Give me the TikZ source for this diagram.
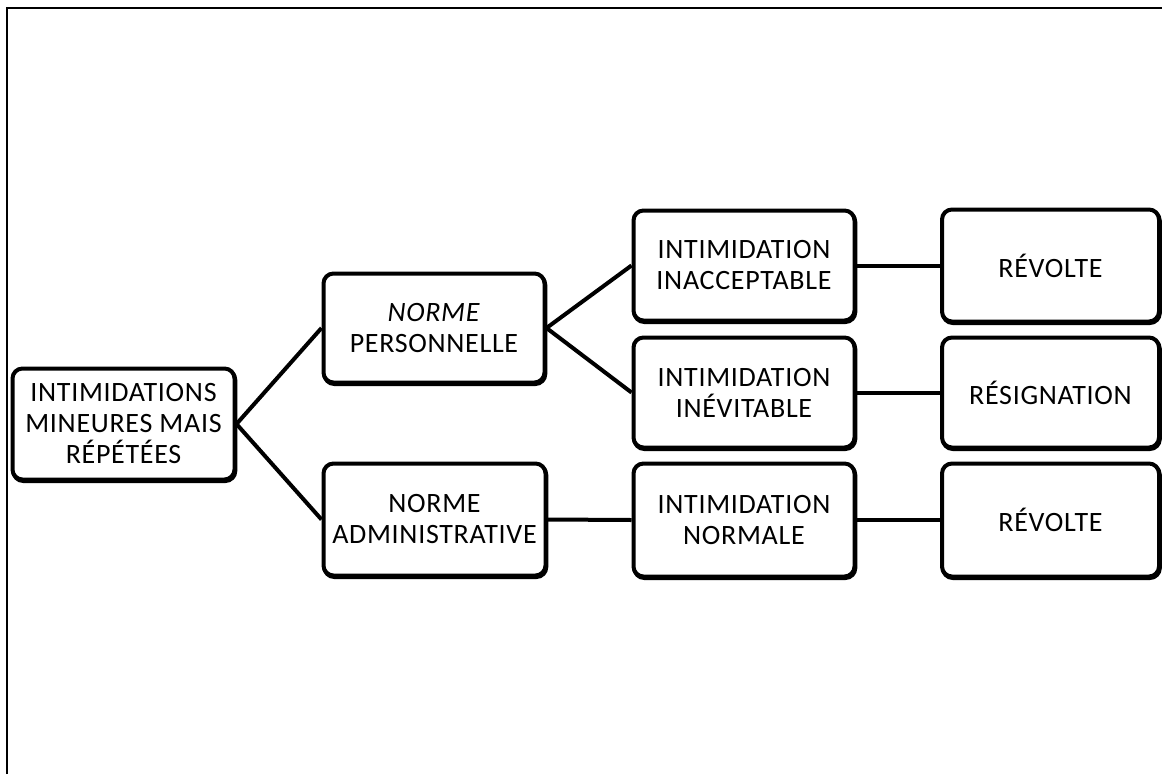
\documentclass[tikz,border=0pt]{standalone}
\usepackage{fontspec}
\setmainfont{Carlito}[LetterSpace=2.5]
\begin{document}
\begin{tikzpicture}[x=1pt,y=-1pt,
  box/.style={draw=black, line width=4pt, rounded corners=10pt, fill=white,
    align=center, inner sep=0pt, font=\fontsize{28}{31}\selectfont,
    preaction={draw=black, line width=4pt, transform canvas={shift={(0.8pt,-1.5pt)}}}},
  link/.style={draw=black, line width=4pt}]
\useasboundingbox (0,0) rectangle (1162,774);
\fill[white] (0,0) rectangle (1162,774);
\draw[line width=2pt] (7,774) -- (7,8) -- (1162,8);
% first column
\node[box, minimum width=222pt, minimum height=111pt] (a) at (123.5,424) {INTIMIDATIONS\\MINEURES MAIS\\RÉPÉTÉES};
% second column
\node[box, minimum width=221pt, minimum height=109pt] (b) at (434,328) {\textit{NORME}\\PERSONNELLE};
\node[box, minimum width=222pt, minimum height=112pt] (c) at (434.5,519.5) {NORME\\ADMINISTRATIVE};
% third column
\node[box, minimum width=221pt, minimum height=110pt] (d) at (744,265.5) {INTIMIDATION\\INACCEPTABLE};
\node[box, minimum width=221pt, minimum height=110pt] (e) at (744,392.5) {INTIMIDATION\\INÉVITABLE};
\node[box, minimum width=221pt, minimum height=113pt] (f) at (744,520) {INTIMIDATION\\NORMALE};
% fourth column
\node[box, minimum width=217pt, minimum height=112pt] (g) at (1050.5,265.5) {RÉVOLTE};
\node[box, minimum width=217pt, minimum height=110pt] (h) at (1050.5,392.5) {RÉSIGNATION};
\node[box, minimum width=217pt, minimum height=113pt] (i) at (1050.5,520) {RÉVOLTE};
% connectors
\draw[link] (a.east) -- (b.west);
\draw[link] (a.east) -- (c.west);
\draw[link] (b.east) -- (d.west);
\draw[link] (b.east) -- (e.west);
\draw[link] (c.east) -- (f.west);
\draw[link] (d.east) -- (g.west);
\draw[link] (e.east) -- (h.west);
\draw[link] (f.east) -- (i.west);
\end{tikzpicture}
\end{document}
